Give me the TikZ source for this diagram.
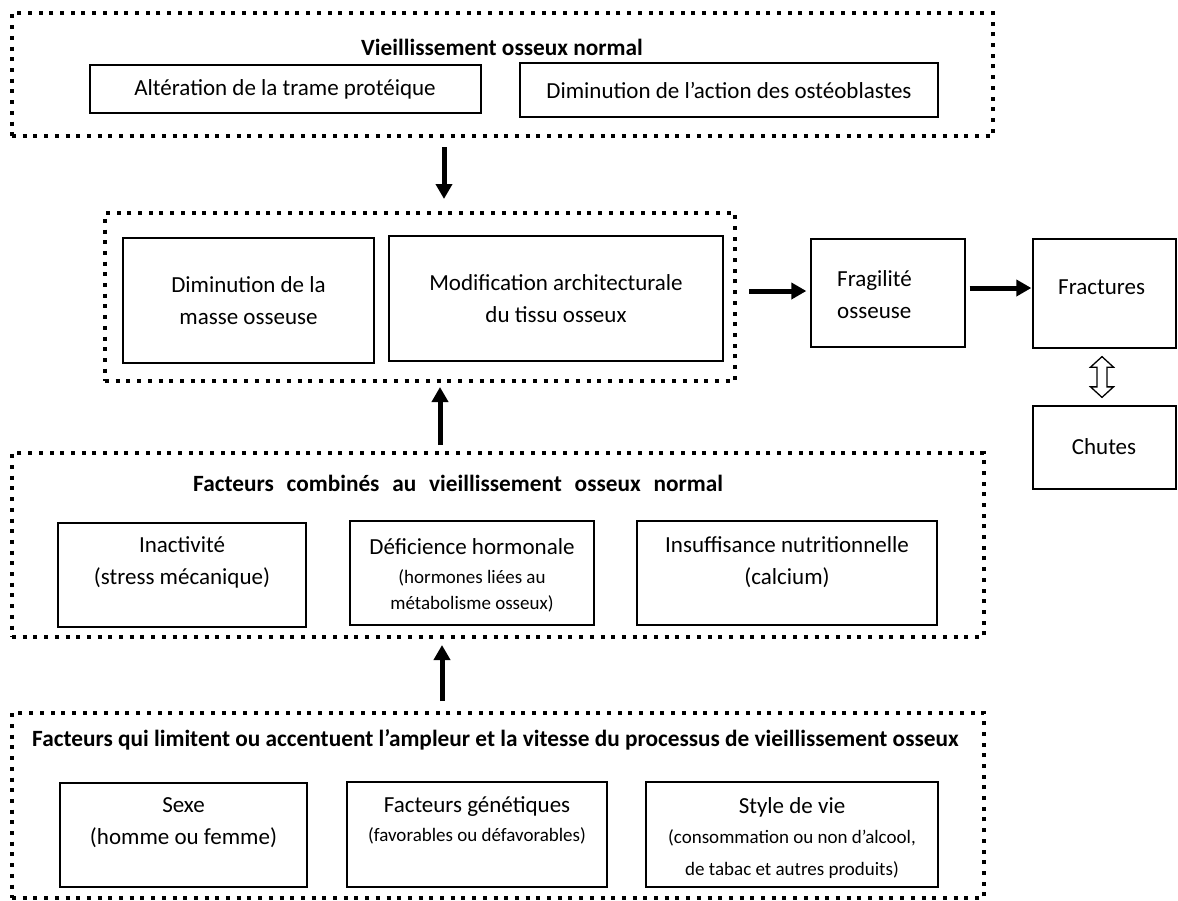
\documentclass[tikz,border=0pt]{standalone}
\usepackage{fontspec}
\setmainfont{Carlito}
\usetikzlibrary{arrows.meta,fit,calc}
\begin{document}
\begin{tikzpicture}[x=1pt,y=-1pt,
  box/.style={draw,line width=1.3pt,inner sep=0pt},
  dotbox/.style={draw,line width=4pt,dash pattern=on 4pt off 6.7pt,inner sep=0pt},
  txt/.style={font=\fontsize{23}{32}\selectfont,align=center,inner sep=0pt},
  smalltxt/.style={font=\fontsize{19}{29}\selectfont,align=center,inner sep=0pt},
  ttl/.style={font=\fontsize{23.3}{28}\selectfont\bfseries,inner sep=0pt},
  arr/.style={line width=5pt,-{Triangle[width=16pt,length=15pt]}},
  dblarr/.style={draw,line width=1.3pt,fill=white,line join=miter}
]
\useasboundingbox (0,0) rectangle (1178,900);

% ---- top group
\node[dotbox,fit={(12,13)(993,136)}] (top) {};
\node[ttl] (ttop) at (502,47) {Vieillissement osseux normal};
\node[box,fit={(90,65)(481,113)}] (alt) {};
\node[txt] (talt) at (285,89) {Altération de la trame protéique};
\node[box,fit={(520,63)(938,117)}] (dim) {};
\node[txt] (tdim) at (729,90) {Diminution de l’action des ostéoblastes};

% ---- middle group
\node[dotbox,fit={(105,213)(735,381)}] (mid) {};
\node[box,fit={(123,238)(374,363)}] (masse) {};
\node[txt] (tmasse) at (248.5,301) {Diminution de la\\masse osseuse};
\node[box,fit={(389,236)(723,361)}] (modif) {};
\node[txt] (tmodif) at (556,299) {Modification architecturale\\du tissu osseux};

\node[box,fit={(811,239)(965,347)}] (frag) {};
\node[txt,align=left,anchor=west] (tfrag) at (837,295) {Fragilité\\osseuse};
\node[box,fit={(1033,239)(1176,348)}] (fract) {};
\node[txt,anchor=west] (tfract) at (1058,287) {Fractures};
\node[box,fit={(1033,406)(1176,489)}] (chutes) {};
\node[txt] (tchutes) at (1104,447) {Chutes};

% ---- combined factors
\node[dotbox,fit={(12,453)(984,637)}] (comb) {};
\node[ttl,anchor=west] (tcomb) at (193,483) {Facteurs\hspace{0.55em}combinés\hspace{0.55em}au\hspace{0.55em}vieillissement\hspace{0.55em}osseux\hspace{0.55em}normal};
\node[box,fit={(58,523)(306,627)}] (inact) {};
\node[txt] (tinact) at (182,562) {Inactivité\\(stress mécanique)};
\node[box,fit={(350,521)(594,625)}] (defic) {};
\node[txt] (tdefic) at (472,547) {Déficience hormonale};
\node[smalltxt,font=\fontsize{19}{26}\selectfont] (tdefic2) at (472,591) {(hormones liées au\\métabolisme osseux)};
\node[box,fit={(637,521)(937,625)}] (insuf) {};
\node[txt] (tinsuf) at (787,562) {Insuffisance nutritionnelle\\(calcium)};

% ---- limiting factors
\node[dotbox,fit={(12,713)(984,898)}] (lim) {};
\node[ttl,anchor=west] (tlim) at (32,740) {Facteurs qui limitent ou accentuent l’ampleur et la vitesse du processus de vieillissement osseux};
\node[box,fit={(60,783)(307,887)}] (sexe) {};
\node[txt] (tsexe) at (183.5,823) {Sexe\\(homme ou femme)};
\node[box,fit={(347,782)(607,887)}] (genet) {};
\node[txt] (tgenet) at (477,807) {Facteurs génétiques};
\node[smalltxt] (tgenet2) at (477,836) {(favorables ou défavorables)};
\node[box,fit={(646,782)(938,887)}] (style) {};
\node[txt] (tstyle) at (792,807) {Style de vie};
\node[smalltxt,font=\fontsize{19}{32}\selectfont] (tstyle2) at (792,854) {(consommation ou non d’alcool,\\de tabac et autres produits)};

% ---- connectors
\coordinate (ax) at (444,0);
\coordinate (bx) at (440,0);
\coordinate (cx) at (442,0);
\coordinate (dx) at (1102,0);
\draw[arr,shorten <=9pt,shorten >=12pt] (top.south -| ax) -- (mid.north -| ax);
\draw[arr,shorten <=6pt,shorten >=4pt] (comb.north -| bx) -- (mid.south -| bx);
\draw[arr,shorten <=10pt,shorten >=6pt] (lim.north -| cx) -- (comb.south -| cx);
\draw[arr,shorten <=12pt,shorten >=4pt] ([yshift=2pt]mid.east |- frag.west) -- ([yshift=2pt]frag.west);
\draw[arr,shorten <=4pt,shorten >=1pt] ([yshift=5pt]frag.east) -- ([yshift=5pt]fract.west |- frag.east);

\coordinate (dt) at ($(fract.south -| dx)+(0,8)$);
\coordinate (db) at ($(chutes.north -| dx)+(0,-8)$);
\draw[dblarr] (dt) -- ++(11.5,10.5) -- ++(-6.5,0) -- ($(db)+(5,-10.5)$) -- ++(6.5,0)
  -- (db) -- ++(-11.5,-10.5) -- ++(6.5,0) -- ($(dt)+(-5,10.5)$) -- ++(-6.5,0) -- cycle;
\end{tikzpicture}
\end{document}
